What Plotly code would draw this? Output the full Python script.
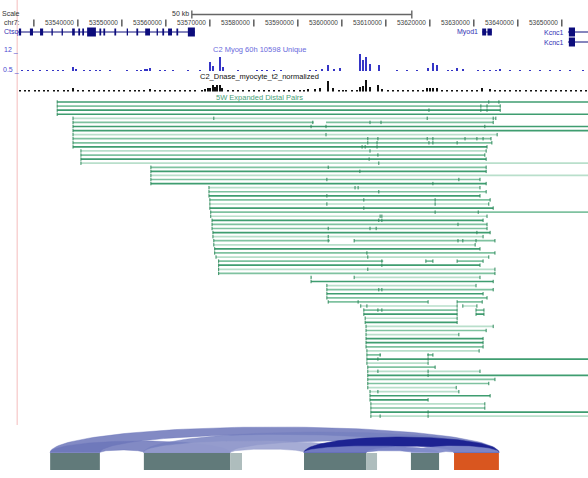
import numpy as np
import plotly.graph_objects as go

# ---------------- data (chr7 positions in kb) ----------------
view_kb = [53522.3, 53655.95]
left_guide_kb = 53526.2

ruler_tick_kb = [53530, 53540, 53550, 53560, 53570, 53580, 53590, 53600, 53610, 53620, 53630, 53640, 53650]
ruler_tick_text = ["", "53540000", "53550000", "53560000", "53570000", "53580000", "53590000",
                   "53600000", "53610000", "53620000", "53630000", "53640000", "53650000"]
scale_bar_kb = [53565.9, 53615.9]
scale_bar_text = "50 kb"

ctsq_span_kb = [53526.4, 53566.6]
ctsq_exon_start_kb = [53526.6, 53529.1, 53531.4, 53534.0, 53536.3, 53538.7, 53540.1, 53541.0, 53542.1, 53544.9,
                      53545.8, 53548.3, 53551.1, 53553.3, 53555.3, 53557.9, 53559.2, 53560.5, 53562.4, 53565.0]
ctsq_exon_end_kb = [53527.1, 53529.8, 53532.1, 53534.3, 53536.6, 53539.3, 53540.5, 53541.4, 53544.1, 53545.3,
                    53546.2, 53548.7, 53551.4, 53553.7, 53556.4, 53558.2, 53559.6, 53561.4, 53562.8, 53566.6]
myod1_span_kb = [53631.9, 53634.1]
myod1_exon_start_kb = [53631.9, 53633.1]
myod1_exon_end_kb = [53632.8, 53634.1]
kcnc1_span_kb = [53651.4, 53660.0]
kcnc1_exon_start_kb = [53651.6]
kcnc1_exon_end_kb = [53653.0]

# C2 Myog 60h signal
myog_pos_kb = [53527.3, 53528.7, 53529.8, 53531.4, 53533.0, 53534.3, 53535.5, 53536.6, 53538.9, 53539.6,
               53541.4, 53542.8, 53544.1, 53545.0, 53547.3, 53551.2, 53553.4, 53554.4, 53555.3, 53555.7,
               53556.4, 53558.7, 53559.8, 53561.6, 53565.0, 53567.8, 53570.0, 53570.7, 53572.3, 53573.0,
               53576.4, 53580.7, 53581.9, 53583.0, 53584.6, 53586.2, 53592.8, 53594.1, 53595.5, 53596.9,
               53598.2, 53599.6, 53604.1, 53604.8, 53605.5, 53606.4, 53608.4, 53612.5, 53614.8, 53617.1,
               53619.6, 53620.7, 53621.6, 53624.1, 53625.0, 53626.2, 53627.5, 53631.0, 53632.3, 53633.7,
               53635.0, 53636.0, 53638.2, 53640.5, 53642.8, 53645.0, 53647.3, 53649.6, 53651.9, 53654.8]
myog_val = [1.1, 1.1, 1.2, 1.1, 1.1, 1.2, 1.1, 1.1, 2.7, 1.6,
            1.1, 1.2, 1.1, 1.3, 1.1, 1.2, 1.1, 1.2, 1.4, 1.6,
            2.1, 1.2, 1.1, 1.2, 1.3, 1.1, 5.4, 3.2, 8.2, 2.7,
            1.3, 1.1, 1.2, 1.1, 1.1, 1.2, 1.3, 1.2, 1.4, 3.8,
            1.4, 2.1, 9.8, 6.5, 8.2, 4.3, 3.8, 1.2, 1.1, 1.2,
            2.1, 4.9, 3.8, 1.3, 1.2, 2.1, 1.4, 1.2, 1.3, 1.2,
            1.3, 1.6, 1.1, 1.2, 1.1, 1.1, 1.2, 1.1, 1.1, 1.1]

# C2 DNase myocyte signal
dnase_peak_kb = [53538.9, 53556.4, 53568.2, 53568.9, 53569.6, 53570.0, 53570.7, 53571.2, 53571.6, 53572.3,
                 53572.8, 53592.3, 53593.9, 53595.0, 53596.9, 53598.0, 53601.0, 53602.3, 53603.4, 53604.1,
                 53604.8, 53605.5, 53606.4, 53608.2, 53609.1, 53619.4, 53620.0, 53620.7, 53621.6, 53631.9,
                 53633.7]
dnase_peak_val = [0.29, 0.21, 0.15, 0.2, 0.25, 0.3, 0.5, 0.35, 0.5, 0.55,
                  0.3, 0.2, 0.2, 0.25, 0.85, 0.3, 0.12, 0.15, 0.15, 0.35,
                  0.45, 0.9, 0.4, 0.5, 0.2, 0.3, 0.3, 0.25, 0.25, 0.3,
                  0.2]
dnase_low_kb = [53526.8, 53527.9, 53529.0, 53530.2, 53531.1, 53532.3, 53533.2, 53534.5, 53535.6, 53536.8,
                53537.7, 53540.0, 53541.2, 53542.5, 53543.6, 53544.7, 53546.0, 53547.1, 53548.3, 53549.4,
                53550.6, 53551.8, 53552.9, 53554.0, 53555.1, 53557.5, 53558.6, 53559.8, 53560.9, 53562.1,
                53563.3, 53564.4, 53565.6, 53566.7, 53574.1, 53575.3, 53576.5, 53577.6, 53578.8, 53580.0,
                53581.1, 53582.3, 53583.4, 53584.6, 53585.8, 53586.9, 53588.1, 53589.2, 53590.4, 53591.3,
                53599.4, 53600.2, 53610.5, 53611.6, 53612.8, 53613.9, 53615.1, 53616.2, 53617.4, 53618.5,
                53622.8, 53623.9, 53625.1, 53626.2, 53627.4, 53628.5, 53629.7, 53630.8, 53634.9, 53636.0,
                53637.2, 53638.3, 53639.5, 53640.6, 53641.8, 53642.9, 53644.1, 53645.2, 53646.4, 53647.5,
                53648.7, 53649.8, 53651.0, 53652.1, 53653.3, 53654.4, 53655.5]
dnase_low_val = [0.08, 0.06, 0.10, 0.07, 0.09, 0.06, 0.08, 0.11, 0.07, 0.09,
                 0.10, 0.08, 0.12, 0.09, 0.07, 0.10, 0.08, 0.09, 0.06, 0.08,
                 0.07, 0.10, 0.08, 0.09, 0.12, 0.10, 0.08, 0.13, 0.09, 0.07,
                 0.08, 0.06, 0.09, 0.08, 0.10, 0.09, 0.12, 0.08, 0.10, 0.14,
                 0.09, 0.11, 0.13, 0.10, 0.08, 0.12, 0.09, 0.07, 0.10, 0.12,
                 0.10, 0.12, 0.11, 0.09, 0.08, 0.10, 0.07, 0.09, 0.08, 0.11,
                 0.12, 0.10, 0.13, 0.11, 0.12, 0.10, 0.13, 0.11, 0.09, 0.08,
                 0.07, 0.06, 0.08, 0.07, 0.09, 0.06, 0.07, 0.08, 0.06, 0.07,
                 0.06, 0.08, 0.07, 0.06, 0.07, 0.06, 0.08]

# 5W Expanded Distal Pairs (one row per item)
pair_start_kb = [53535.3, 53535.3, 53535.3, 53535.3, 53538.9, 53538.9, 53538.9, 53538.9, 53538.9, 53538.9,
                 53538.9, 53538.9, 53540.7, 53540.7, 53540.7, 53540.7, 53556.6, 53556.6, 53556.6, 53556.6,
                 53556.6, 53569.8, 53569.8, 53569.8, 53570.0, 53570.0, 53570.0, 53570.2, 53570.2, 53570.5,
                 53570.5, 53570.5, 53570.7, 53570.7, 53570.9, 53570.9, 53571.1, 53571.1, 53571.4, 53572.0,
                 53572.0, 53572.0, 53572.0, 53593.0, 53593.0, 53596.6, 53596.6, 53596.6, 53596.6, 53596.9,
                 53604.3, 53605.0, 53605.0, 53605.3, 53605.3, 53605.5, 53605.5, 53605.5, 53605.5, 53605.5,
                 53605.5, 53605.7, 53605.7, 53605.7, 53605.7, 53605.9, 53605.9, 53605.9, 53605.9, 53605.9,
                 53605.9, 53606.4, 53606.4, 53606.4, 53606.6, 53606.6, 53606.6, 53606.6]
pair_end_kb = [53660.0, 53636.0, 53636.0, 53660.0, 53635.0, 53634.4, 53660.0, 53660.0, 53635.3, 53633.9,
               53634.1, 53633.0, 53632.8, 53632.5, 53632.8, 53660.0, 53632.8, 53632.8, 53660.0, 53631.4,
               53632.8, 53631.4, 53632.8, 53631.4, 53633.7, 53633.4, 53634.4, 53660.0, 53633.0, 53632.1,
               53633.0, 53633.0, 53633.7, 53632.1, 53634.8, 53630.3, 53631.4, 53634.8, 53633.4, 53632.1,
               53631.4, 53634.8, 53634.8, 53631.4, 53634.4, 53630.5, 53634.4, 53632.1, 53633.0, 53631.9,
               53630.7, 53632.3, 53632.3, 53626.2, 53626.2, 53634.4, 53632.8, 53626.6, 53632.1, 53632.1,
               53632.1, 53631.2, 53620.7, 53660.0, 53619.6, 53621.2, 53631.4, 53660.0, 53634.8, 53633.4,
               53626.0, 53626.6, 53633.7, 53619.6, 53632.5, 53632.5, 53660.0, 53660.0]
pair_inner_kb = [
    [53633.4, 53635.7], [53631.6, 53633.0], [53619.8, 53631.6, 53633.0], [],
    [53570.9, 53619.4, 53634.4], [53593.4, 53606.4, 53608.9], [53593.0, 53596.4, 53632.5], [],
    [53596.4], [53605.9, 53608.2, 53619.4, 53620.7, 53628.0, 53630.7, 53632.1],
    [53605.9, 53608.0, 53619.8, 53620.7, 53626.2], [53604.6, 53605.3, 53608.0],
    [53606.4], [53608.2], [53606.2], [53608.4],
    [53596.9], [53604.1], [], [53596.6, 53626.6], [53620.7],
    [53603.0, 53603.7], [53608.4], [53596.6], [53605.0, 53621.2], [53596.6, 53621.2], [53605.0],
    [53621.2, 53631.0], [53608.7, 53609.1], [53608.4, 53609.1], [53626.4], [53596.9, 53606.4, 53607.8],
    [53630.7], [53596.9], [53596.9, 53602.8, 53626.4, 53627.5, 53630.5], [], [], [53605.7], [53605.9],
    [53609.1, 53619.1, 53620.7, 53626.2], [53609.1], [53605.9], [],
    [53602.8], [], [], [53608.4, 53609.1], [], [], [53603.7, 53619.6, 53626.2],
    [53605.7, 53626.2, 53627.5], [53608.2, 53609.1, 53626.2, 53630.5], [53626.2, 53630.5], [], [],
    [], [], [], [], [], [], [],
    [53608.7, 53619.6], [53608.2, 53619.6], [], [], [53608.2, 53619.6], [53619.6], [], [], [],
    [53608.2], [], [], [], [], [53619.6], [53608.7, 53619.6]]
pair_gap_row = [5, 34, 39, 39, 43, 49, 50, 51, 52, 62]
pair_gap_from_kb = [53593.6, 53597.3, 53609.4, 53620.7, 53593.2, 53619.6, 53626.2, 53626.2, 53626.2, 53608.9]
pair_gap_to_kb = [53596.4, 53602.8, 53619.1, 53626.2, 53602.8, 53626.2, 53627.5, 53630.5, 53630.5, 53619.4]
pair_shade = [0, 1, 0, 0, 2, 1, 0, 0, 2, 1,
              1, 0, 2, 1, 0, 2, 1, 0, 2, 1,
              0, 2, 1, 0, 1, 2, 0, 1, 2, 0,
              1, 1, 0, 2, 1, 2, 0, 1, 2, 1,
              0, 2, 1, 2, 0, 2, 1, 0, 1, 1,
              2, 1, 0, 2, 0, 2, 1, 2, 0, 0,
              1, 2, 1, 0, 2, 1, 2, 0, 1, 1,
              2, 2, 0, 0, 2, 1, 0, 2]

# interaction summary (anchors and links)
anchor_start_kb = [53533.7, 53555.0, 53591.4, 53615.7, 53625.5]
anchor_end_kb = [53545.0, 53574.6, 53605.5, 53622.1, 53635.7]
anchor_fringe_start_kb = [53574.6, 53605.5]
anchor_fringe_end_kb = [53577.3, 53608.0]
link_from = [0, 0, 1, 1, 2, 2, 3]
link_to = [4, 1, 4, 2, 4, 3, 4]

# ---------------- styles / layout helpers ----------------
PH = 478
FONT = "Liberation Sans, Arial, sans-serif"
NAVY = "#0c0c7c"
GREEN_SHADES = ["#3f9d70", "#7fc2a0", "#b9dfcb"]
TICK_GREEN = "#2f8a5c"
link_top_px = [427, 441, 432, 441, 437, 446, 446]
link_color = ["rgba(108,118,186,0.85)", "rgba(108,118,186,0.85)", "rgba(118,128,192,0.85)",
              "rgba(150,158,206,0.85)", "#1d2392", "rgba(118,128,196,0.95)", "rgba(130,140,202,0.95)"]


def dom(top_px, bottom_px):
    return [1 - bottom_px / PH, 1 - top_px / PH]


fig = go.Figure()


def seg_trace(xs, ys, color, width, yaxis="y"):
    fig.add_trace(go.Scatter(x=xs, y=ys, mode="lines", line=dict(color=color, width=width),
                             yaxis=yaxis, hoverinfo="skip", showlegend=False))


annotations = []


def label(text, x, y, xref="x", anchor="left", color="#222", size=7, xshift=0):
    annotations.append(dict(text=text, x=x, y=y, xref=xref, yref="y", xanchor=anchor, yanchor="middle",
                            showarrow=False, xshift=xshift,
                            font=dict(family=FONT, size=size, color=color)))


# left guide line
seg_trace([left_guide_kb, left_guide_kb], [0, 425], "#f4bcbc", 1)

# scale bar
seg_trace([scale_bar_kb[0], scale_bar_kb[1], None, scale_bar_kb[0], scale_bar_kb[0], None,
           scale_bar_kb[1], scale_bar_kb[1]],
          [14.5, 14.5, None, 10.5, 18.5, None, 10.5, 18.5], "#666666", 1.4)
label("Scale", 0.0, 13.5, xref="paper", color="#333")
label(scale_bar_text, scale_bar_kb[0], 13.5, anchor="right", xshift=-1, color="#333")

# ruler
rx, ry = [], []
for t in ruler_tick_kb:
    rx += [t, t, None]
    ry += [19.5, 26.5, None]
seg_trace(rx, ry, "#333333", 1.2)
for t, txt in zip(ruler_tick_kb, ruler_tick_text):
    if txt:
        label(txt, t, 22.5, anchor="right", xshift=-1.5, size=6.5, color="#444")
label("chr7:", 0.004, 22.5, xref="paper", color="#333")

# genes
shapes = []


def gene(span, starts, ends, yc, name, name_x, name_ref="x", name_anchor="right"):
    seg_trace([span[0], span[1]], [yc, yc], NAVY, 1)
    for s, e in zip(starts, ends):
        h = 4.5 if (e - s) > 1.2 else 3.5
        shapes.append(dict(type="rect", xref="x", yref="y", x0=s, x1=e, y0=yc - h, y1=yc + h,
                           fillcolor=NAVY, line=dict(width=0)))
    label(name, name_x, yc, xref=name_ref, anchor=name_anchor, color="#3030b4", size=7,
          xshift=-2 if name_ref == "x" else 0)


gene(ctsq_span_kb, ctsq_exon_start_kb, ctsq_exon_end_kb, 32, "Ctsq", 0.004, name_ref="paper", name_anchor="left")
gene(myod1_span_kb, myod1_exon_start_kb, myod1_exon_end_kb, 32, "Myod1", myod1_span_kb[0])
gene(kcnc1_span_kb, kcnc1_exon_start_kb, kcnc1_exon_end_kb, 32, "Kcnc1", kcnc1_span_kb[0])
gene(kcnc1_span_kb, kcnc1_exon_start_kb, kcnc1_exon_end_kb, 42, "Kcnc1", kcnc1_span_kb[0])

# signal tracks
fig.add_trace(go.Bar(x=myog_pos_kb, y=myog_val, width=0.25, marker=dict(color="#3535c6", line=dict(width=0)),
                     yaxis="y2", hoverinfo="skip", showlegend=False))
fig.add_trace(go.Bar(x=dnase_peak_kb + dnase_low_kb, y=dnase_peak_val + dnase_low_val, width=0.25,
                     marker=dict(color="#111111", line=dict(width=0)),
                     yaxis="y3", hoverinfo="skip", showlegend=False))
label("12 _", 0.004, 50, xref="paper", color="#4a4ad0", size=7)
label("0.5 _", 0.002, 69.5, xref="paper", color="#4a4ad0", size=7)
center_kb = (view_kb[0] + view_kb[1]) / 2 - 7.9
label("C2 Myog 60h 10598 Unique", center_kb, 49.5, anchor="center", color="#6a6adc", size=7.5)
label("C2_Dnase_myocyte_t2_normalized", center_kb, 76.5, anchor="center", color="#111", size=7.5)
label("5W Expanded Distal Pairs", center_kb, 97.5, anchor="center", color="#4aa27a", size=7.5)

# pairs
seg_x = {0: [], 1: [], 2: []}
seg_y = {0: [], 1: [], 2: []}
tick_x, tick_y = [], []
for i, (s, e) in enumerate(zip(pair_start_kb, pair_end_kb)):
    sh = pair_shade[i]
    cuts = sorted((a, b) for r, a, b in zip(pair_gap_row, pair_gap_from_kb, pair_gap_to_kb) if r == i)
    pos = s
    for a, b in cuts:
        seg_x[sh] += [pos, a, None]
        seg_y[sh] += [i, i, None]
        pos = b
    seg_x[sh] += [pos, e, None]
    seg_y[sh] += [i, i, None]
    ticks = [s] + list(pair_inner_kb[i]) + ([e] if e < view_kb[1] else [])
    for t in ticks:
        tick_x += [t, t, None]
        tick_y += [i - 0.42, i + 0.42, None]
for sh in (2, 1, 0):
    seg_trace(seg_x[sh], seg_y[sh], GREEN_SHADES[sh], 1.7, yaxis="y4")
seg_trace(tick_x, tick_y, TICK_GREEN, 1, yaxis="y4")

# interaction links (ribbons) and anchors
BASE = 452.5


def ribbon(a1, a2, b1, b2, top, n=80):
    t = np.linspace(0, np.pi, n)
    cx, rx_ = (a1 + b2) / 2, (b2 - a1) / 2
    h = BASE - top
    ox = cx - rx_ * np.cos(t)
    oy = BASE - h * np.sin(t)
    cx2, rx2 = (a2 + b1) / 2, (b1 - a2) / 2
    h2 = h * rx2 / rx_ * 0.9
    ix = cx2 + rx2 * np.cos(t)
    iy = BASE - h2 * np.sin(t)
    return list(ox) + list(ix) + [ox[0]], list(oy) + list(iy) + [oy[0]]


for f, t_, top, col in zip(link_from, link_to, link_top_px, link_color):
    xs, ys = ribbon(anchor_start_kb[f], anchor_end_kb[f], anchor_start_kb[t_], anchor_end_kb[t_], top)
    fig.add_trace(go.Scatter(x=xs, y=ys, mode="lines", fill="toself", fillcolor=col,
                             line=dict(width=0.5, color=col), hoverinfo="skip", showlegend=False))

for k, (s, e) in enumerate(zip(anchor_start_kb, anchor_end_kb)):
    col = "#d9561f" if k == len(anchor_start_kb) - 1 else "#617a7a"
    shapes.append(dict(type="rect", xref="x", yref="y", x0=s, x1=e, y0=453, y1=470,
                       fillcolor=col, line=dict(width=0)))
for s, e in zip(anchor_fringe_start_kb, anchor_fringe_end_kb):
    shapes.append(dict(type="rect", xref="x", yref="y", x0=s, x1=e, y0=453, y1=470,
                       fillcolor="#aebdbd", line=dict(width=0)))

fig.update_layout(
    width=588, height=478, margin=dict(l=0, r=0, t=0, b=0),
    paper_bgcolor="white", plot_bgcolor="rgba(0,0,0,0)", showlegend=False, barmode="overlay",
    bargap=0,
    xaxis=dict(range=view_kb, domain=[0, 1], visible=False),
    yaxis=dict(range=[PH, 0], domain=[0, 1], visible=False),
    yaxis2=dict(range=[0.5, 12], domain=dom(50, 71), anchor="x", visible=False),
    yaxis3=dict(range=[0, 1], domain=dom(79, 91.5), anchor="x", visible=False),
    yaxis4=dict(range=[77.5, -0.5], domain=dom(99.96, 418.2), anchor="x", visible=False),
    shapes=shapes, annotations=annotations,
    font=dict(family=FONT),
)

fig.write_html("out.html")
